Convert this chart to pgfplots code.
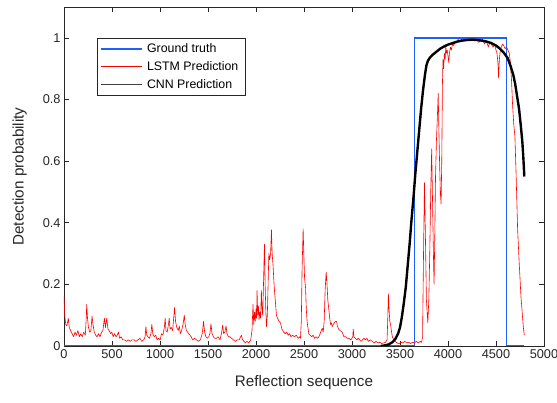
\documentclass[border=0pt]{standalone}
\usepackage{pgfplots}
\pgfplotsset{compat=1.18}
\usepackage{fontspec}
\setmainfont{Liberation Sans}
\definecolor{gtblue}{RGB}{30,95,255}
\definecolor{axgray}{RGB}{38,38,38}
\begin{document}
\begin{tikzpicture}
\begin{axis}[
  scale only axis,
  width=480bp, height=339bp,
  xmin=0, xmax=5000, ymin=0, ymax=1.1,
  xtick={0,500,...,5000},
  ytick={0,0.2,0.4,0.6,0.8,1},
  tick align=inside,
  major tick length=5bp,
  axis line style={axgray, line width=0.5pt},
  tick style={axgray, line width=0.5pt},
  ticklabel style={font=\fontsize{12.8}{14}\selectfont, text=axgray},
  label style={font=\fontsize{15.3}{17}\selectfont, text=axgray},
  /pgf/number format/assume math mode=true,
  /pgf/number format/1000 sep={},
  xlabel={Reflection sequence},
  ylabel={Detection probability},
  xlabel style={yshift=-10bp},
  ylabel style={yshift=9bp},
  legend cell align=left,
  legend style={at={(rel axis cs:0.069,0.909)}, anchor=north west,
    draw=axgray, line width=0.5pt, fill=white,
    font=\fontsize{12.4}{14}\selectfont, text=black,
    inner xsep=3bp, inner ysep=3.5bp, row sep=3.5bp,
    nodes={inner xsep=4bp}},
  legend image code/.code={\draw[#1] (0bp,0bp) -- (41bp,0bp);},
]
% ground truth
\addplot[gtblue, line width=1.7pt] coordinates {
(0,0) (3650,0) (3650,1) (4610,1) (4610,0) (4795,0)
};
\addlegendentry{Ground truth}
% LSTM
\addplot[red, line width=0.6pt, line join=round] coordinates {
(0,0.16)(8,0.10)(18,0.07)(30,0.065)(45,0.09)(55,0.06)(70,0.05)(85,0.04)(100,0.03)(115,0.045)(130,0.035)(145,0.05)(160,0.03)(175,0.04)(190,0.03)(205,0.045)(222,0.035)(230,0.08)(237,0.135)(245,0.09)(255,0.06)(268,0.045)(280,0.05)(292,0.097)(302,0.07)(315,0.045)(330,0.035)(345,0.03)(360,0.04)(375,0.03)(392,0.045)(405,0.05)(421,0.09)(432,0.06)(445,0.09)(458,0.055)(470,0.05)(485,0.04)(498,0.045)(512,0.03)(527,0.04)(542,0.03)(555,0.035)(567,0.045)(580,0.025)(595,0.03)(612,0.02)(630,0.02)(650,0.015)(670,0.02)(690,0.015)(710,0.02)(730,0.02)(750,0.015)(770,0.02)(790,0.025)(810,0.015)(830,0.02)(845,0.03)(853,0.063)(862,0.035)(875,0.03)(890,0.025)(905,0.04)(915,0.07)(925,0.04)(940,0.03)(955,0.035)(970,0.02)(985,0.025)(1002,0.02)(1015,0.04)(1030,0.035)(1045,0.06)(1054,0.09)(1062,0.05)(1075,0.045)(1088,0.07)(1096,0.09)(1105,0.055)(1118,0.06)(1132,0.05)(1142,0.09)(1152,0.125)(1162,0.08)(1175,0.06)(1190,0.05)(1201,0.065)(1212,0.04)(1225,0.05)(1240,0.07)(1253,0.1)(1262,0.07)(1275,0.05)(1288,0.045)(1298,0.04)(1312,0.035)(1325,0.03)(1340,0.02)(1360,0.025)(1380,0.02)(1400,0.015)(1420,0.02)(1440,0.04)(1454,0.08)(1465,0.045)(1478,0.03)(1492,0.025)(1508,0.03)(1520,0.04)(1531,0.072)(1542,0.04)(1556,0.03)(1570,0.025)(1588,0.025)(1605,0.03)(1625,0.02)(1640,0.04)(1653,0.068)(1663,0.04)(1676,0.045)(1688,0.065)(1698,0.04)(1712,0.03)(1728,0.03)(1745,0.025)(1765,0.02)(1785,0.015)(1805,0.02)(1825,0.02)(1840,0.03)(1848,0.035)(1860,0.02)(1875,0.015)(1890,0.01)(1905,0.015)(1925,0.01)(1945,0.02)(1958,0.05)(1969,0.135)(1976,0.07)(1984,0.11)(1992,0.08)(2000,0.12)(2006,0.09)(2011,0.18)(2018,0.1)(2025,0.13)(2032,0.085)(2040,0.11)(2048,0.09)(2056,0.18)(2063,0.12)(2070,0.1)(2078,0.2)(2088,0.33)(2095,0.2)(2102,0.12)(2109,0.063)(2118,0.1)(2126,0.2)(2134,0.3)(2143,0.28)(2152,0.3)(2161,0.377)(2168,0.3)(2178,0.26)(2188,0.2)(2195,0.17)(2203,0.14)(2213,0.1)(2225,0.09)(2240,0.08)(2255,0.075)(2270,0.055)(2289,0.045)(2305,0.04)(2320,0.045)(2335,0.035)(2350,0.04)(2365,0.03)(2380,0.035)(2400,0.03)(2420,0.035)(2440,0.025)(2455,0.03)(2463,0.025)(2472,0.08)(2480,0.25)(2491,0.38)(2498,0.3)(2506,0.22)(2516,0.19)(2524,0.12)(2532,0.08)(2541,0.06)(2550,0.04)(2565,0.035)(2580,0.03)(2595,0.035)(2610,0.025)(2625,0.03)(2640,0.025)(2655,0.03)(2668,0.04)(2680,0.05)(2690,0.058)(2700,0.045)(2710,0.08)(2720,0.18)(2731,0.24)(2740,0.2)(2748,0.15)(2759,0.117)(2768,0.09)(2776,0.07)(2785,0.075)(2794,0.063)(2805,0.07)(2815,0.075)(2829,0.08)(2839,0.08)(2848,0.065)(2860,0.055)(2875,0.05)(2898,0.045)(2915,0.03)(2935,0.03)(2950,0.025)(2968,0.025)(2985,0.02)(3000,0.025)(3008,0.03)(3013,0.055)(3020,0.03)(3035,0.025)(3050,0.02)(3065,0.025)(3080,0.02)(3095,0.015)(3110,0.02)(3125,0.025)(3140,0.02)(3155,0.025)(3170,0.015)(3190,0.02)(3210,0.015)(3230,0.01)(3250,0.015)(3270,0.01)(3290,0.012)(3310,0.008)(3330,0.01)(3350,0.012)(3365,0.02)(3372,0.08)(3379,0.17)(3386,0.12)(3394,0.08)(3402,0.07)(3410,0.05)(3420,0.03)(3435,0.02)(3450,0.015)(3470,0.01)(3490,0.008)(3510,0.012)(3530,0.01)(3550,0.015)(3570,0.01)(3590,0.012)(3610,0.008)(3630,0.012)(3650,0.01)(3670,0.015)(3690,0.01)(3710,0.015)(3725,0.012)
(3735,0.03)(3745,0.3)(3755,0.53)(3765,0.35)(3775,0.15)(3790,0.075)(3800,0.15)(3810,0.3)(3820,0.5)(3830,0.64)(3840,0.45)(3848,0.3)(3855,0.2)(3862,0.35)(3870,0.55)(3880,0.67)(3890,0.75)(3898,0.82)(3905,0.7)(3912,0.6)(3920,0.5)(3928,0.46)(3935,0.6)(3942,0.85)(3948,0.93)(3955,0.9)(3962,0.95)(3970,0.93)(3977,0.97)(3985,0.95)(3992,0.96)(4000,0.94)(4008,0.92)(4015,0.95)(4025,0.97)(4035,0.96)(4047,0.98)(4060,0.975)(4075,0.99)(4090,0.985)(4105,0.995)(4120,0.99)(4140,0.995)(4160,0.99)(4180,0.995)(4200,0.99)(4220,0.995)(4240,0.99)(4260,0.997)(4280,0.99)(4300,0.995)(4320,0.985)(4340,0.99)(4360,0.995)(4380,0.98)(4400,0.99)(4420,0.97)(4435,0.985)(4450,0.98)(4470,0.97)(4485,0.98)(4500,0.96)(4510,0.95)(4520,0.92)(4527,0.87)(4535,0.93)(4545,0.96)(4555,0.97)(4569,0.98)(4580,0.975)(4595,0.965)(4610,0.97)(4625,0.96)(4638,0.95)(4650,0.92)(4662,0.86)(4673,0.78)(4685,0.72)(4697,0.68)(4710,0.55)(4725,0.38)(4740,0.28)(4760,0.16)(4775,0.1)(4785,0.06)(4795,0.035)
};
\addlegendentry{LSTM Prediction}
% CNN
\addplot[black, line width=2.4pt, line join=round,
  legend image code/.code={\draw[black!75, line width=0.7pt] (0bp,0bp) -- (41bp,0bp);}] coordinates {
(3300,0)(3340,0.002)(3380,0.005)(3420,0.012)(3450,0.022)(3480,0.04)(3500,0.06)(3520,0.095)(3540,0.14)(3560,0.19)(3580,0.26)(3600,0.33)(3620,0.41)(3640,0.48)(3660,0.56)(3680,0.63)(3700,0.7)(3720,0.77)(3740,0.83)(3760,0.88)(3775,0.91)(3790,0.925)(3810,0.935)(3840,0.945)(3880,0.955)(3920,0.965)(3960,0.972)(4000,0.978)(4050,0.983)(4100,0.988)(4150,0.991)(4200,0.993)(4250,0.994)(4300,0.993)(4350,0.991)(4400,0.988)(4450,0.983)(4500,0.975)(4540,0.965)(4580,0.952)(4620,0.935)(4650,0.91)(4680,0.88)(4700,0.85)(4720,0.81)(4740,0.77)(4760,0.71)(4775,0.66)(4785,0.61)(4795,0.55)
};
\addlegendentry{CNN Prediction}
\end{axis}
\pgfresetboundingbox
\path (-64bp,-57bp) rectangle (493bp,346bp);
\end{tikzpicture}
\end{document}
